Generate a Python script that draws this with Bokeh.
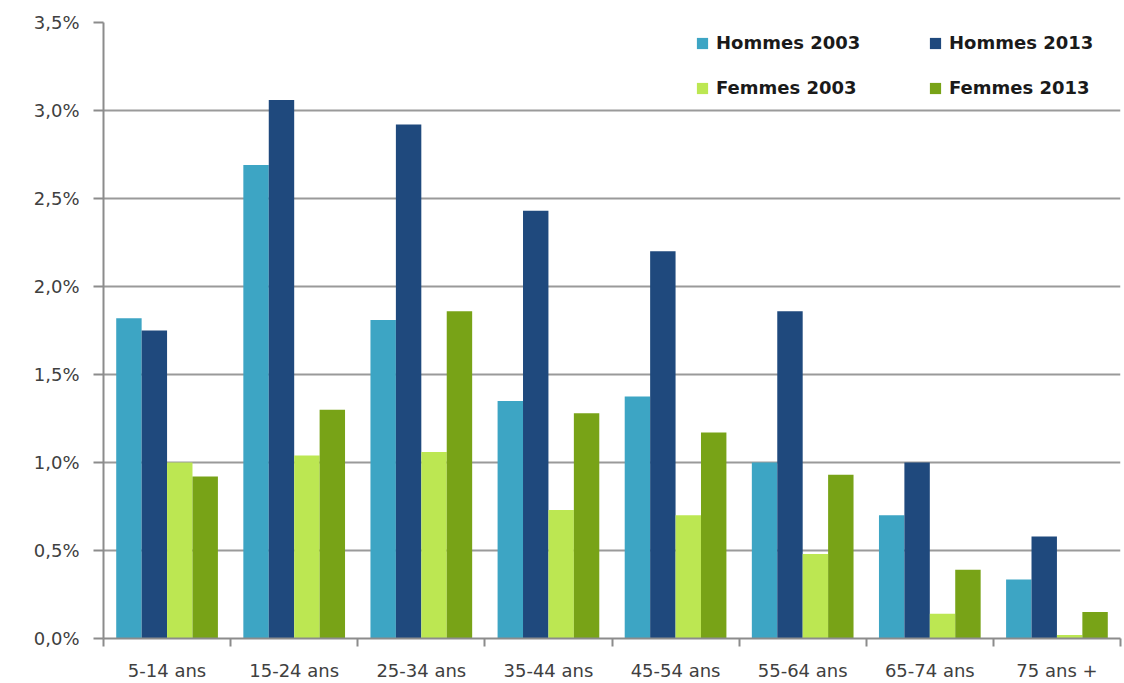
import numpy as np
from bokeh.plotting import figure
from bokeh.models import FixedTicker, Range1d, Legend, LegendItem
from bokeh.embed import file_html
from bokeh.resources import INLINE

categories = ["5-14 ans", "15-24 ans", "25-34 ans", "35-44 ans", "45-54 ans", "55-64 ans", "65-74 ans", "75 ans +"]
hommes_2003 = [1.82, 2.69, 1.81, 1.35, 1.375, 1.00, 0.70, 0.335]
hommes_2013 = [1.75, 3.06, 2.92, 2.43, 2.20, 1.86, 1.00, 0.58]
femmes_2003 = [1.00, 1.04, 1.06, 0.73, 0.70, 0.48, 0.14, 0.02]
femmes_2013 = [0.92, 1.30, 1.86, 1.28, 1.17, 0.93, 0.39, 0.15]
series_names = ["Hommes 2003", "Hommes 2013", "Femmes 2003", "Femmes 2013"]
y_ticks = [0.0, 0.5, 1.0, 1.5, 2.0, 2.5, 3.0, 3.5]
y_labels = ["0,0%", "0,5%", "1,0%", "1,5%", "2,0%", "2,5%", "3,0%", "3,5%"]

colors = ["#3DA5C4", "#1F497D", "#BCE752", "#78A317"]
series = [hommes_2003, hommes_2013, femmes_2003, femmes_2013]

p = figure(width=1124, height=683, output_backend="svg", toolbar_location=None,
           x_range=Range1d(0, len(categories)), y_range=Range1d(0, 3.5),
           min_border_left=103, min_border_right=4, min_border_top=22, min_border_bottom=45)
p.outline_line_color = None
p.background_fill_color = "white"

centers = np.arange(len(categories)) + 0.5
offsets = [-0.3, -0.1, 0.1, 0.3]
renderers = []
for vals, col, off in zip(series, colors, offsets):
    r = p.vbar(x=centers + off, top=vals, bottom=0, width=0.2, fill_color=col, line_color=None)
    renderers.append(r)

# y axis
p.yaxis.ticker = FixedTicker(ticks=y_ticks)
p.yaxis.major_label_overrides = {t: l for t, l in zip(y_ticks, y_labels)}
p.yaxis.major_label_text_font = "DejaVu Sans"
p.yaxis.major_label_text_font_size = "18px"
p.yaxis.major_label_text_color = "#404040"
p.yaxis.axis_line_color = "#8C8C8C"
p.yaxis.axis_line_width = 2
p.yaxis.major_tick_line_color = "#8C8C8C"
p.yaxis.major_tick_line_width = 2
p.yaxis.major_tick_out = 10
p.yaxis.major_tick_in = 0
p.yaxis.minor_tick_line_color = None
p.yaxis.major_label_standoff = 14

# x axis
p.xaxis.ticker = FixedTicker(ticks=list(centers), minor_ticks=list(range(len(categories) + 1)))
p.xaxis.major_label_overrides = {float(c): n for c, n in zip(centers, categories)}
p.xaxis.major_label_text_font = "DejaVu Sans"
p.xaxis.major_label_text_font_size = "18px"
p.xaxis.major_label_text_color = "#404040"
p.xaxis.axis_line_color = "#8C8C8C"
p.xaxis.axis_line_width = 2
p.xaxis.major_tick_line_color = None
p.xaxis.minor_tick_line_color = "#8C8C8C"
p.xaxis.minor_tick_line_width = 2
p.xaxis.minor_tick_out = 8
p.xaxis.minor_tick_in = 0
p.xaxis.major_label_standoff = 13

p.xgrid.grid_line_color = None
p.ygrid.ticker = FixedTicker(ticks=y_ticks)
p.ygrid.grid_line_color = "#9A9A9A"
p.ygrid.grid_line_width = 2

legend = Legend(items=[LegendItem(label=n, renderers=[r]) for n, r in
                       zip([series_names[0], series_names[2], series_names[1], series_names[3]],
                           [renderers[0], renderers[2], renderers[1], renderers[3]])],
                location=(592, 540), ncols=2, orientation="vertical",
                label_text_font="DejaVu Sans", label_text_font_style="bold",
                label_text_font_size="18px", label_text_color="#1a1a1a",
                glyph_width=14, glyph_height=14, label_height=20, label_width=188,
                label_standoff=7, spacing=24, padding=0, margin=0,
                background_fill_alpha=0, border_line_color=None)
p.add_layout(legend, "center")

open("out.html", "w").write(file_html(p, INLINE))
